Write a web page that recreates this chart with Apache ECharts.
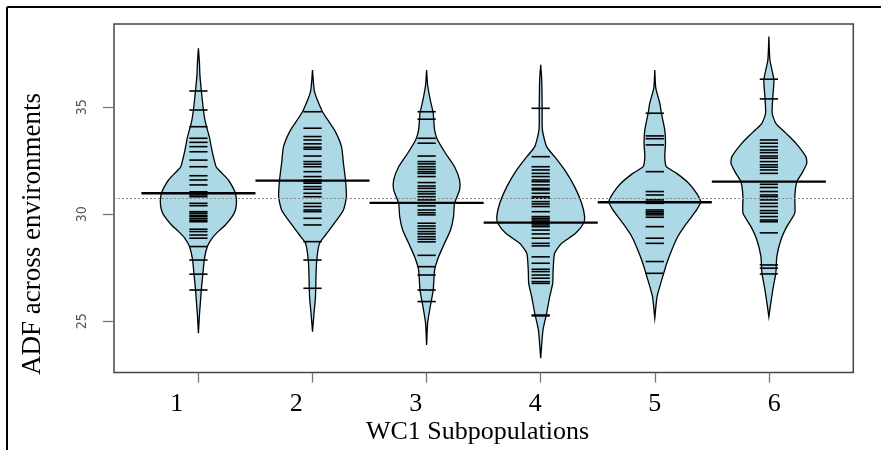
<!DOCTYPE html>
<html><head><meta charset="utf-8">
<script src="https://cdn.jsdelivr.net/npm/echarts@6/dist/echarts.min.js"></script>
<style>html,body{margin:0;padding:0;background:#fff}#chart{width:881px;height:450px}</style>
</head><body><div id="chart"></div>
<script>
// ---------------- data ----------------
const categories = [1, 2, 3, 4, 5, 6];
const categoryLabels = ['1', '2', '3', '4', '5', '6'];
const yTickValues = [25, 30, 35];
const beanMeans = [30.98, 31.57, 30.53, 29.61, 30.56, 31.52];
const overallMean = 30.75;

// density outlines: [ADF value, half-width of bean in x-axis units]
const bean1Density = [[37.76,0],[37.06,0.009],[36.5,0.013],[35.76,0.026],[34.87,0.044],[34.3,0.061],[33.6,0.096],[33.0,0.118],[32.5,0.14],[32.2,0.157],[31.9,0.21],[31.6,0.262],[31.3,0.297],[30.98,0.324],[30.6,0.334],[30.2,0.324],[29.9,0.297],[29.5,0.236],[29.2,0.175],[28.9,0.122],[28.5,0.079],[27.9,0.052],[27.2,0.039],[26.5,0.026],[25.9,0.0175],[25.3,0.009],[24.44,0]];
const bean2Density = [[36.74,0],[35.73,0.0175],[34.79,0.0875],[33.94,0.192],[33.16,0.254],[32.38,0.271],[31.6,0.289],[30.82,0.297],[30.2,0.271],[29.58,0.192],[29.03,0.114],[28.64,0.061],[27.71,0.035],[26.15,0.026],[25.37,0.013],[24.51,0]];
const bean3Density = [[36.74,0],[36.04,0.009],[35.34,0.032],[34.72,0.058],[33.94,0.07],[33.47,0.096],[32.85,0.166],[32.22,0.245],[31.6,0.289],[31.14,0.289],[30.51,0.245],[29.89,0.236],[29.26,0.21],[28.64,0.157],[28.01,0.105],[27.39,0.07],[26.46,0.058],[25.68,0.032],[24.91,0.009],[23.89,0]];
const bean4Density = [[36.98,0],[36.28,0.009],[34.95,0.013],[33.94,0.015],[33.16,0.052],[32.69,0.122],[32.07,0.21],[31.29,0.297],[30.51,0.359],[29.89,0.385],[29.58,0.376],[29.11,0.306],[28.64,0.184],[28.18,0.122],[27.39,0.109],[26.77,0.105],[26.15,0.079],[25.37,0.052],[24.59,0.02],[23.27,0]];
const bean5Density = [[36.74,0],[35.89,0.009],[35.19,0.044],[34.72,0.058],[33.94,0.0875],[33.32,0.094],[32.69,0.0875],[32.22,0.102],[31.91,0.192],[31.45,0.297],[30.98,0.367],[30.59,0.402],[30.2,0.367],[29.58,0.28],[28.95,0.201],[28.33,0.149],[27.71,0.105],[26.93,0.061],[26.15,0.02],[25.14,0]];
const bean6Density = [[38.3,0],[37.21,0.009],[36.28,0.044],[35.5,0.035],[34.72,0.029],[34.25,0.061],[33.79,0.149],[33.32,0.236],[32.69,0.324],[32.38,0.332],[31.91,0.289],[31.52,0.245],[30.82,0.227],[30.05,0.227],[29.42,0.157],[28.8,0.105],[28.03,0.07],[27.26,0.061],[26.49,0.035],[25.87,0.0175],[25.21,0]];

// individual observations (bean lines)
const bean1Obs = [35.76,34.87,34.09,33.55,33.36,33.16,32.92,32.53,32.22,31.80,31.60,31.37,31.05,30.98,30.9,30.82,30.51,30.4,30.12,30.05,29.95,29.89,29.8,29.72,29.65,29.30,29.19,29.03,28.88,28.49,27.86,27.20,26.46];
const bean2Obs = [34.79,34.02,33.63,33.47,33.29,33.13,33.04,32.72,32.46,32.34,32.22,31.99,31.76,31.60,31.52,31.45,31.29,31.17,30.98,30.82,30.51,30.36,30.20,30.12,29.81,29.50,28.72,27.86,26.54];
const bean3Obs = [34.79,34.44,33.55,33.32,32.72,32.46,32.35,32.22,32.10,31.99,31.91,31.76,31.48,31.32,31.21,31.06,30.95,30.82,30.67,30.51,30.39,30.20,30.07,29.97,29.58,29.45,29.33,29.19,29.08,28.95,28.83,28.71,28.08,27.55,27.16,26.46,25.92];
const bean4Obs = [34.95,32.69,32.22,32.07,31.91,31.76,31.60,31.52,31.37,31.21,31.14,30.98,30.82,30.75,30.59,30.48,30.36,30.12,29.89,29.81,29.73,29.65,29.58,29.50,29.42,29.26,29.08,28.88,28.64,28.52,28.01,27.71,27.43,27.32,27.16,27.01,26.85,26.77,25.29,25.25];
const bean5Obs = [34.72,33.66,33.53,33.24,31.99,31.06,30.90,30.67,30.59,30.51,30.20,30.12,30.05,29.97,29.86,29.42,28.88,28.64,27.79,27.24];
const bean6Obs = [36.31,35.39,33.47,33.32,33.16,33.00,32.88,32.72,32.62,32.46,32.31,32.20,32.07,31.91,31.40,31.25,31.06,30.90,30.82,30.67,30.51,30.36,30.17,30.05,29.89,29.73,29.65,29.13,27.63,27.48,27.21];

const densities = [bean1Density, bean2Density, bean3Density, bean4Density, bean5Density, bean6Density];
const observations = [bean1Obs, bean2Obs, bean3Obs, bean4Obs, bean5Obs, bean6Obs];

// ---------------- chart ----------------
const BEAN_FILL = '#ADD8E6';
const LINE_HALF = 0.08;
const AVG_HALF = 0.5;
const SERIF = '"Liberation Serif", "Times New Roman", serif';

const chart = echarts.init(document.getElementById('chart'), null, {renderer: 'canvas'});

const series = [{
  type: 'line', data: [], z: 1, silent: true,
  markLine: {
    silent: true, symbol: 'none', label: {show: false},
    lineStyle: {color: '#8a8a8a', width: 1, type: [2, 2]},
    data: [{yAxis: overallMean}], animation: false
  }
}];

categories.forEach((c, i) => {
  const dens = densities[i];
  series.push({
    type: 'custom', z: 3, silent: true, data: [[c, beanMeans[i]]],
    renderItem: (params, api) => {
      const pts = [];
      for (const [v, w] of dens) pts.push(api.coord([c + w, v]));
      for (let k = dens.length - 1; k >= 0; k--) {
        const [v, w] = dens[k];
        pts.push(api.coord([c - w, v]));
      }
      return {type: 'polygon', shape: {points: pts, smooth: 0.2},
        style: {fill: BEAN_FILL, stroke: '#000', lineWidth: 1.3}};
    }
  });
  series.push({
    type: 'custom', z: 4, silent: true,
    data: observations[i].map(v => [c, v]),
    renderItem: (params, api) => {
      const v = api.value(1);
      const p1 = api.coord([c - LINE_HALF, v]);
      const p2 = api.coord([c + LINE_HALF, v]);
      return {type: 'line', shape: {x1: p1[0], y1: p1[1], x2: p2[0], y2: p2[1]},
        style: {stroke: '#000', lineWidth: 1.6}};
    }
  });
  series.push({
    type: 'custom', z: 5, silent: true, data: [[c, beanMeans[i]]],
    renderItem: (params, api) => {
      const v = api.value(1);
      const p1 = api.coord([c - AVG_HALF, v]);
      const p2 = api.coord([c + AVG_HALF, v]);
      return {type: 'line', shape: {x1: p1[0], y1: p1[1], x2: p2[0], y2: p2[1]},
        style: {stroke: '#000', lineWidth: 2.3}};
    }
  });
});

chart.setOption({
  animation: false,
  backgroundColor: '#fff',
  grid: {left: 114, right: 27.7, top: 24, bottom: 77.4, show: true,
    borderColor: '#444', borderWidth: 1.5, backgroundColor: 'transparent'},
  xAxis: [{
    type: 'value', min: 0.26, max: 6.74, position: 'bottom',
    axisLine: {show: false}, splitLine: {show: false},
    axisTick: {show: true, inside: false, length: 10, customValues: categories,
      lineStyle: {color: '#777', width: 1.3}},
    axisLabel: {show: false}
  }, {
    type: 'value', min: 0.475, max: 6.662, position: 'bottom',
    axisLine: {show: false}, splitLine: {show: false}, axisTick: {show: false},
    axisLabel: {show: true, customValues: categories, margin: 19,
      formatter: v => categoryLabels[categories.indexOf(v)],
      fontFamily: SERIF, fontSize: 26, color: '#000'}
  }],
  yAxis: {
    type: 'value', min: 22.6, max: 38.89,
    axisLine: {show: false}, splitLine: {show: false},
    axisTick: {show: true, inside: false, length: 11, customValues: yTickValues,
      lineStyle: {color: '#777', width: 1.3}},
    axisLabel: {show: true, customValues: yTickValues, rotate: 90, margin: 25,
      fontFamily: '"Liberation Sans Narrow", "DejaVu Sans Condensed", "Liberation Sans", sans-serif',
      fontSize: 14, color: '#555'}
  },
  graphic: [
    {type: 'line', shape: {x1: 7, y1: 7, x2: 881, y2: 7}, style: {stroke: '#000', lineWidth: 2}},
    {type: 'line', shape: {x1: 7, y1: 7, x2: 7, y2: 450}, style: {stroke: '#000', lineWidth: 2}},
    {type: 'text', x: 477.5, y: 432.5, style: {text: 'WC1 Subpopulations', font: '26px ' + SERIF,
      fill: '#000', align: 'center', verticalAlign: 'middle'}},
    {type: 'text', x: 33, y: 234, rotation: Math.PI / 2, style: {text: 'ADF across environments',
      font: '27px ' + SERIF, fill: '#000', align: 'center', verticalAlign: 'middle'}}
  ],
  series: series
});
</script></body></html>
